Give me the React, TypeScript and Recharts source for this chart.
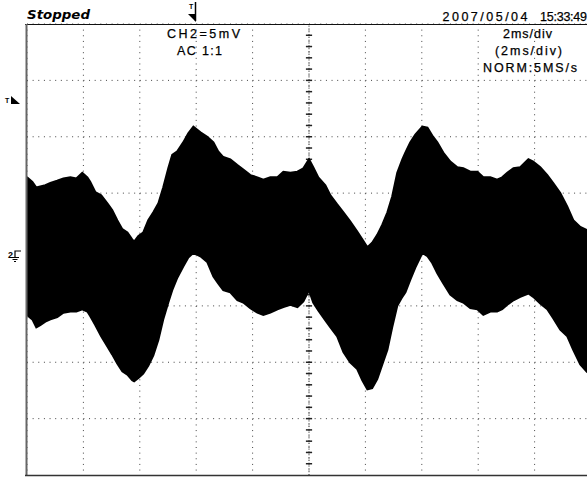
import React from "react";
import {
  ComposedChart,
  Area,
  XAxis,
  YAxis,
  CartesianGrid,
  ReferenceLine,
} from "recharts";

// time in ms (2 ms/div, 10 div), envelope of the CH2 trace in mV (5 mV/div)
const timeMs = [
  0, 0.19, 0.33, 0.47, 0.65, 0.83, 1.07, 1.29, 1.54, 1.75, 1.96, 2.14, 2.24,
  2.42, 2.63, 2.85, 3.02, 3.2, 3.38, 3.56, 3.73, 3.8, 3.95, 4.12, 4.3, 4.48,
  4.66, 4.83, 5.01, 5.15, 5.33, 5.54, 5.72, 5.9, 6.15, 6.39, 6.61, 6.78, 6.96,
  7.21, 7.46, 7.67, 7.92, 8.17, 8.38, 8.63, 8.88, 9.09, 9.34, 9.59, 9.8, 10.0,
  10.15, 10.33, 10.58, 10.76, 11.0, 11.22, 11.46, 11.71, 11.89, 12.07, 12.24,
  12.42, 12.6, 12.78, 12.95, 13.13, 13.31, 13.42, 13.59, 13.77, 14.02, 14.2,
  14.37, 14.55, 14.76, 15.01, 15.26, 15.47, 15.72, 15.97, 16.18, 16.43, 16.67,
  16.85, 17.03, 17.25, 17.49, 17.78, 17.95, 18.2, 18.45, 18.66, 18.91, 19.16,
  19.37, 19.62, 19.87,
];

const upperMv = [
  6.4, 6.0, 5.5, 5.6, 5.7, 5.9, 6.1, 6.3, 6.4, 6.3, 6.8, 6.4, 6.0, 5.1, 4.8,
  4.1, 3.5, 2.6, 1.8, 1.5, 0.9, 0.7, 1.2, 1.5, 2.6, 3.3, 4.1, 5.5, 7.2, 8.4,
  8.7, 9.5, 10.3, 10.9, 10.4, 10.0, 9.5, 8.7, 8.2, 8.0, 7.5, 7.1, 6.6, 6.4,
  6.2, 6.4, 6.4, 6.9, 6.8, 6.9, 7.2, 8.0, 7.3, 6.4, 5.7, 4.8, 4.0, 3.3, 2.5,
  1.6, 0.9, 0.2, 0.6, 1.3, 2.2, 3.3, 4.7, 6.8, 8.0, 8.6, 9.5, 10.2, 10.9,
  10.8, 10.1, 9.5, 8.6, 7.8, 7.3, 7.2, 6.9, 6.9, 6.4, 6.4, 6.2, 6.4, 6.8, 7.2,
  7.3, 8.0, 7.8, 7.3, 6.6, 5.9, 5.0, 3.8, 2.6, 2.0, 1.7,
];

const lowerMv = [
  -5.8, -6.2, -6.9, -6.7, -6.4, -6.2, -6.0, -5.6, -5.5, -5.5, -5.3, -5.5,
  -5.9, -6.7, -7.7, -8.6, -9.3, -10.1, -10.8, -11.1, -11.6, -11.7, -11.4,
  -11.0, -10.3, -9.4, -8.0, -6.2, -4.7, -3.6, -2.5, -1.5, -0.7, -0.3, -0.6,
  -1.1, -2.4, -3.0, -3.6, -3.8, -4.5, -4.7, -5.2, -5.6, -5.8, -5.6, -5.3,
  -5.1, -4.9, -5.1, -4.6, -3.6, -4.7, -5.4, -6.3, -6.9, -7.7, -9.1, -10.0,
  -10.6, -11.6, -12.4, -12.3, -11.5, -10.2, -8.9, -6.9, -5.0, -4.2, -3.8,
  -2.7, -1.6, -0.3, -0.6, -1.2, -2.1, -3.0, -4.0, -4.5, -4.7, -5.2, -5.3,
  -5.8, -5.5, -5.5, -5.3, -4.9, -4.5, -4.2, -3.9, -4.2, -4.8, -5.3, -6.1,
  -7.1, -7.7, -8.9, -10.2, -10.9,
];

const timeTicks = [0, 2, 4, 6, 8, 10, 12, 14, 16, 18, 20];
const voltTicks = [-20, -15, -10, -5, 0, 5, 10, 15, 20];
// minor ticks on the centre graticule line, 1 mV apart
const minorTicks = [
  -19, -18, -17, -16, -15, -14, -13, -12, -11, -10, -9, -8, -7, -6, -5, -4,
  -3, -2, -1, 0, 1, 2, 3, 4, 5, 6, 7, 8, 9, 10, 11, 12, 13, 14, 15, 16, 17, 18,
  19,
];

const data = timeMs.map((t, i) => ({
  t,
  band: [lowerMv[i], upperMv[i]],
}));

const FONT = "'Liberation Sans', Arial, sans-serif";

export default function App() {
  return (
    <div
      style={{
        position: "fixed",
        left: 0,
        top: 0,
        width: 587,
        height: 477,
        overflow: "hidden",
        background: "#fff",
      }}
    >
      <ComposedChart
        width={600}
        height={477}
        data={data}
        margin={{ top: 24, right: 9, bottom: 2, left: 27 }}
      >
        <CartesianGrid
          stroke="#444"
          strokeDasharray="1 4.64"
          horizontalValues={voltTicks}
          verticalValues={timeTicks}
        />
        <XAxis
          dataKey="t"
          type="number"
          domain={[0, 20]}
          ticks={timeTicks}
          hide
        />
        <YAxis type="number" domain={[-20, 20]} ticks={voltTicks} hide />
        <ReferenceLine
          x={10}
          stroke="#222"
          strokeDasharray="1 1.82"
          zIndex={0}
        />
        {minorTicks.map((v) => (
          <ReferenceLine
            key={v}
            stroke="#222"
            strokeWidth={1.5}
            zIndex={0}
            segment={[
              { x: 9.89, y: v },
              { x: 10.11, y: v },
            ]}
          />
        ))}
        <Area
          type="linear"
          dataKey="band"
          stroke="#000"
          strokeWidth={2}
          fill="#000"
          fillOpacity={1}
          zIndex={500}
          isAnimationActive={false}
        />
      </ComposedChart>

      <svg
        width={587}
        height={477}
        style={{ position: "absolute", left: 0, top: 0, pointerEvents: "none" }}
      >
        {/* frame */}
        <line x1={25} y1={24.5} x2={587} y2={24.5} stroke="#111" />
        <line x1={26.5} y1={24} x2={26.5} y2={476} stroke="#666" strokeWidth={2} />
        <line x1={25} y1={475.5} x2={587} y2={475.5} stroke="#333" strokeWidth={1.5} />

        <text
          x={27}
          y={19}
          fontFamily="'DejaVu Sans', sans-serif"
          fontWeight="bold"
          fontStyle="italic"
          fontSize={12}
          textLength={63}
          lengthAdjust="spacingAndGlyphs"
        >
          Stopped
        </text>

        {/* trigger position marker */}
        <text x={189} y={9} fontFamily={FONT} fontSize={7} fontWeight="bold">
          T
        </text>
        <line x1={195.5} y1={2} x2={195.5} y2={21} stroke="#000" strokeWidth={1.5} />
        <polygon points="188,14 196,14 196,22" fill="#000" />

        {/* trigger level marker */}
        <text x={5} y={103} fontFamily={FONT} fontSize={7} fontWeight="bold">
          T
        </text>
        <polygon points="11,96 20,104 11,104" fill="#000" />

        {/* ground reference of CH2 */}
        <text x={8} y={258} fontFamily={FONT} fontSize={9} fontWeight="bold">
          2
        </text>
        <polyline points="21,251 15,251 15,257" fill="none" stroke="#000" strokeWidth={1.2} />
        <line x1={11} y1={257.5} x2={19} y2={257.5} stroke="#000" />
        <line x1={12.5} y1={259.5} x2={17.5} y2={259.5} stroke="#000" />
        <line x1={14} y1={261.5} x2={16} y2={261.5} stroke="#000" />

        <g fontFamily={FONT} fontSize={12.5} fill="#000" stroke="#000" strokeWidth={0.25}>
          <text x={442.5} y={20.5} textLength={85} lengthAdjust="spacing">
            2007/05/04
          </text>
          <text x={540} y={20.5} textLength={47} lengthAdjust="spacing">
            15:33:49
          </text>

          <text x={167} y={38} textLength={73} lengthAdjust="spacing">
            CH2=5mV
          </text>
          <text x={177} y={55} textLength={45} lengthAdjust="spacing">
            AC  1:1
          </text>

          <text x={503} y={38} textLength={49} lengthAdjust="spacing">
            2ms/div
          </text>
          <text x={495} y={55} textLength={67} lengthAdjust="spacing">
            (2ms/div)
          </text>
          <text x={483} y={72} textLength={94} lengthAdjust="spacing">
            NORM:5MS/s
          </text>
        </g>
      </svg>
    </div>
  );
}
